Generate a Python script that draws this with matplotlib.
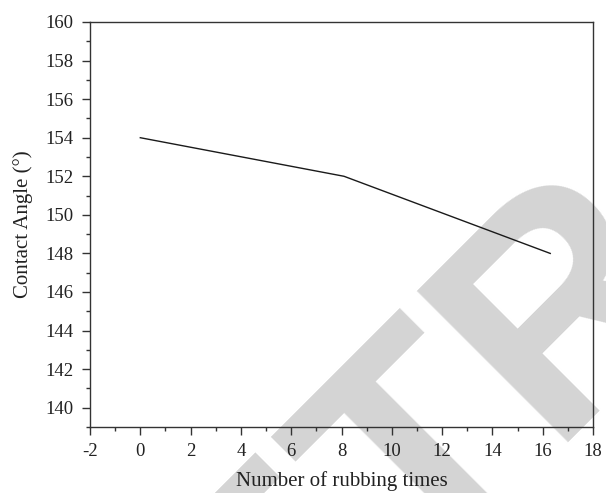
import matplotlib
matplotlib.use("Agg")
import matplotlib.pyplot as plt
from matplotlib.ticker import MultipleLocator

# data
rubbing_times = [0, 8.1, 16.3]
contact_angle = [154, 152, 148]

plt.rcParams["font.family"] = ["Liberation Serif", "DejaVu Serif"]
plt.rcParams["axes.unicode_minus"] = False

fig = plt.figure(figsize=(6.06, 4.93), dpi=100)
ax = fig.add_axes([90 / 606, 1 - 427 / 493, 503 / 606, 405 / 493])
ax.patch.set_alpha(0)

# grey watermark behind the chart
fig.text(1.203, 0.700, "RETRACTED", fontsize=223, fontweight="bold",
         family="Liberation Sans", color="#d4d4d4", rotation=45,
         rotation_mode="anchor", ha="center", va="center", zorder=-1)

ax.plot(rubbing_times, contact_angle, color="#1a1a1a", linewidth=1.0)

ax.set_xlim(-2, 18)
ax.set_ylim(139, 160)
ax.xaxis.set_major_locator(MultipleLocator(2))
ax.xaxis.set_minor_locator(MultipleLocator(1))
ax.yaxis.set_major_locator(MultipleLocator(2))
ax.yaxis.set_minor_locator(MultipleLocator(1))
ax.set_yticks(range(140, 161, 2))

for side in ["left", "bottom", "top", "right"]:
    ax.spines[side].set_color("#333333")
    ax.spines[side].set_linewidth(1.0)

ax.tick_params(which="major", direction="out", length=5.8, width=1, color="#333333",
               labelsize=13.5, labelcolor="#222222", pad=6)
ax.tick_params(which="minor", direction="out", length=3, width=1, color="#333333")

ax.set_xlabel("Number of rubbing times", fontsize=15, color="#222222", labelpad=8)
ax.set_ylabel("Contact Angle (°)", fontsize=15, color="#222222", labelpad=9)

fig.savefig("out.png", dpi=100)
